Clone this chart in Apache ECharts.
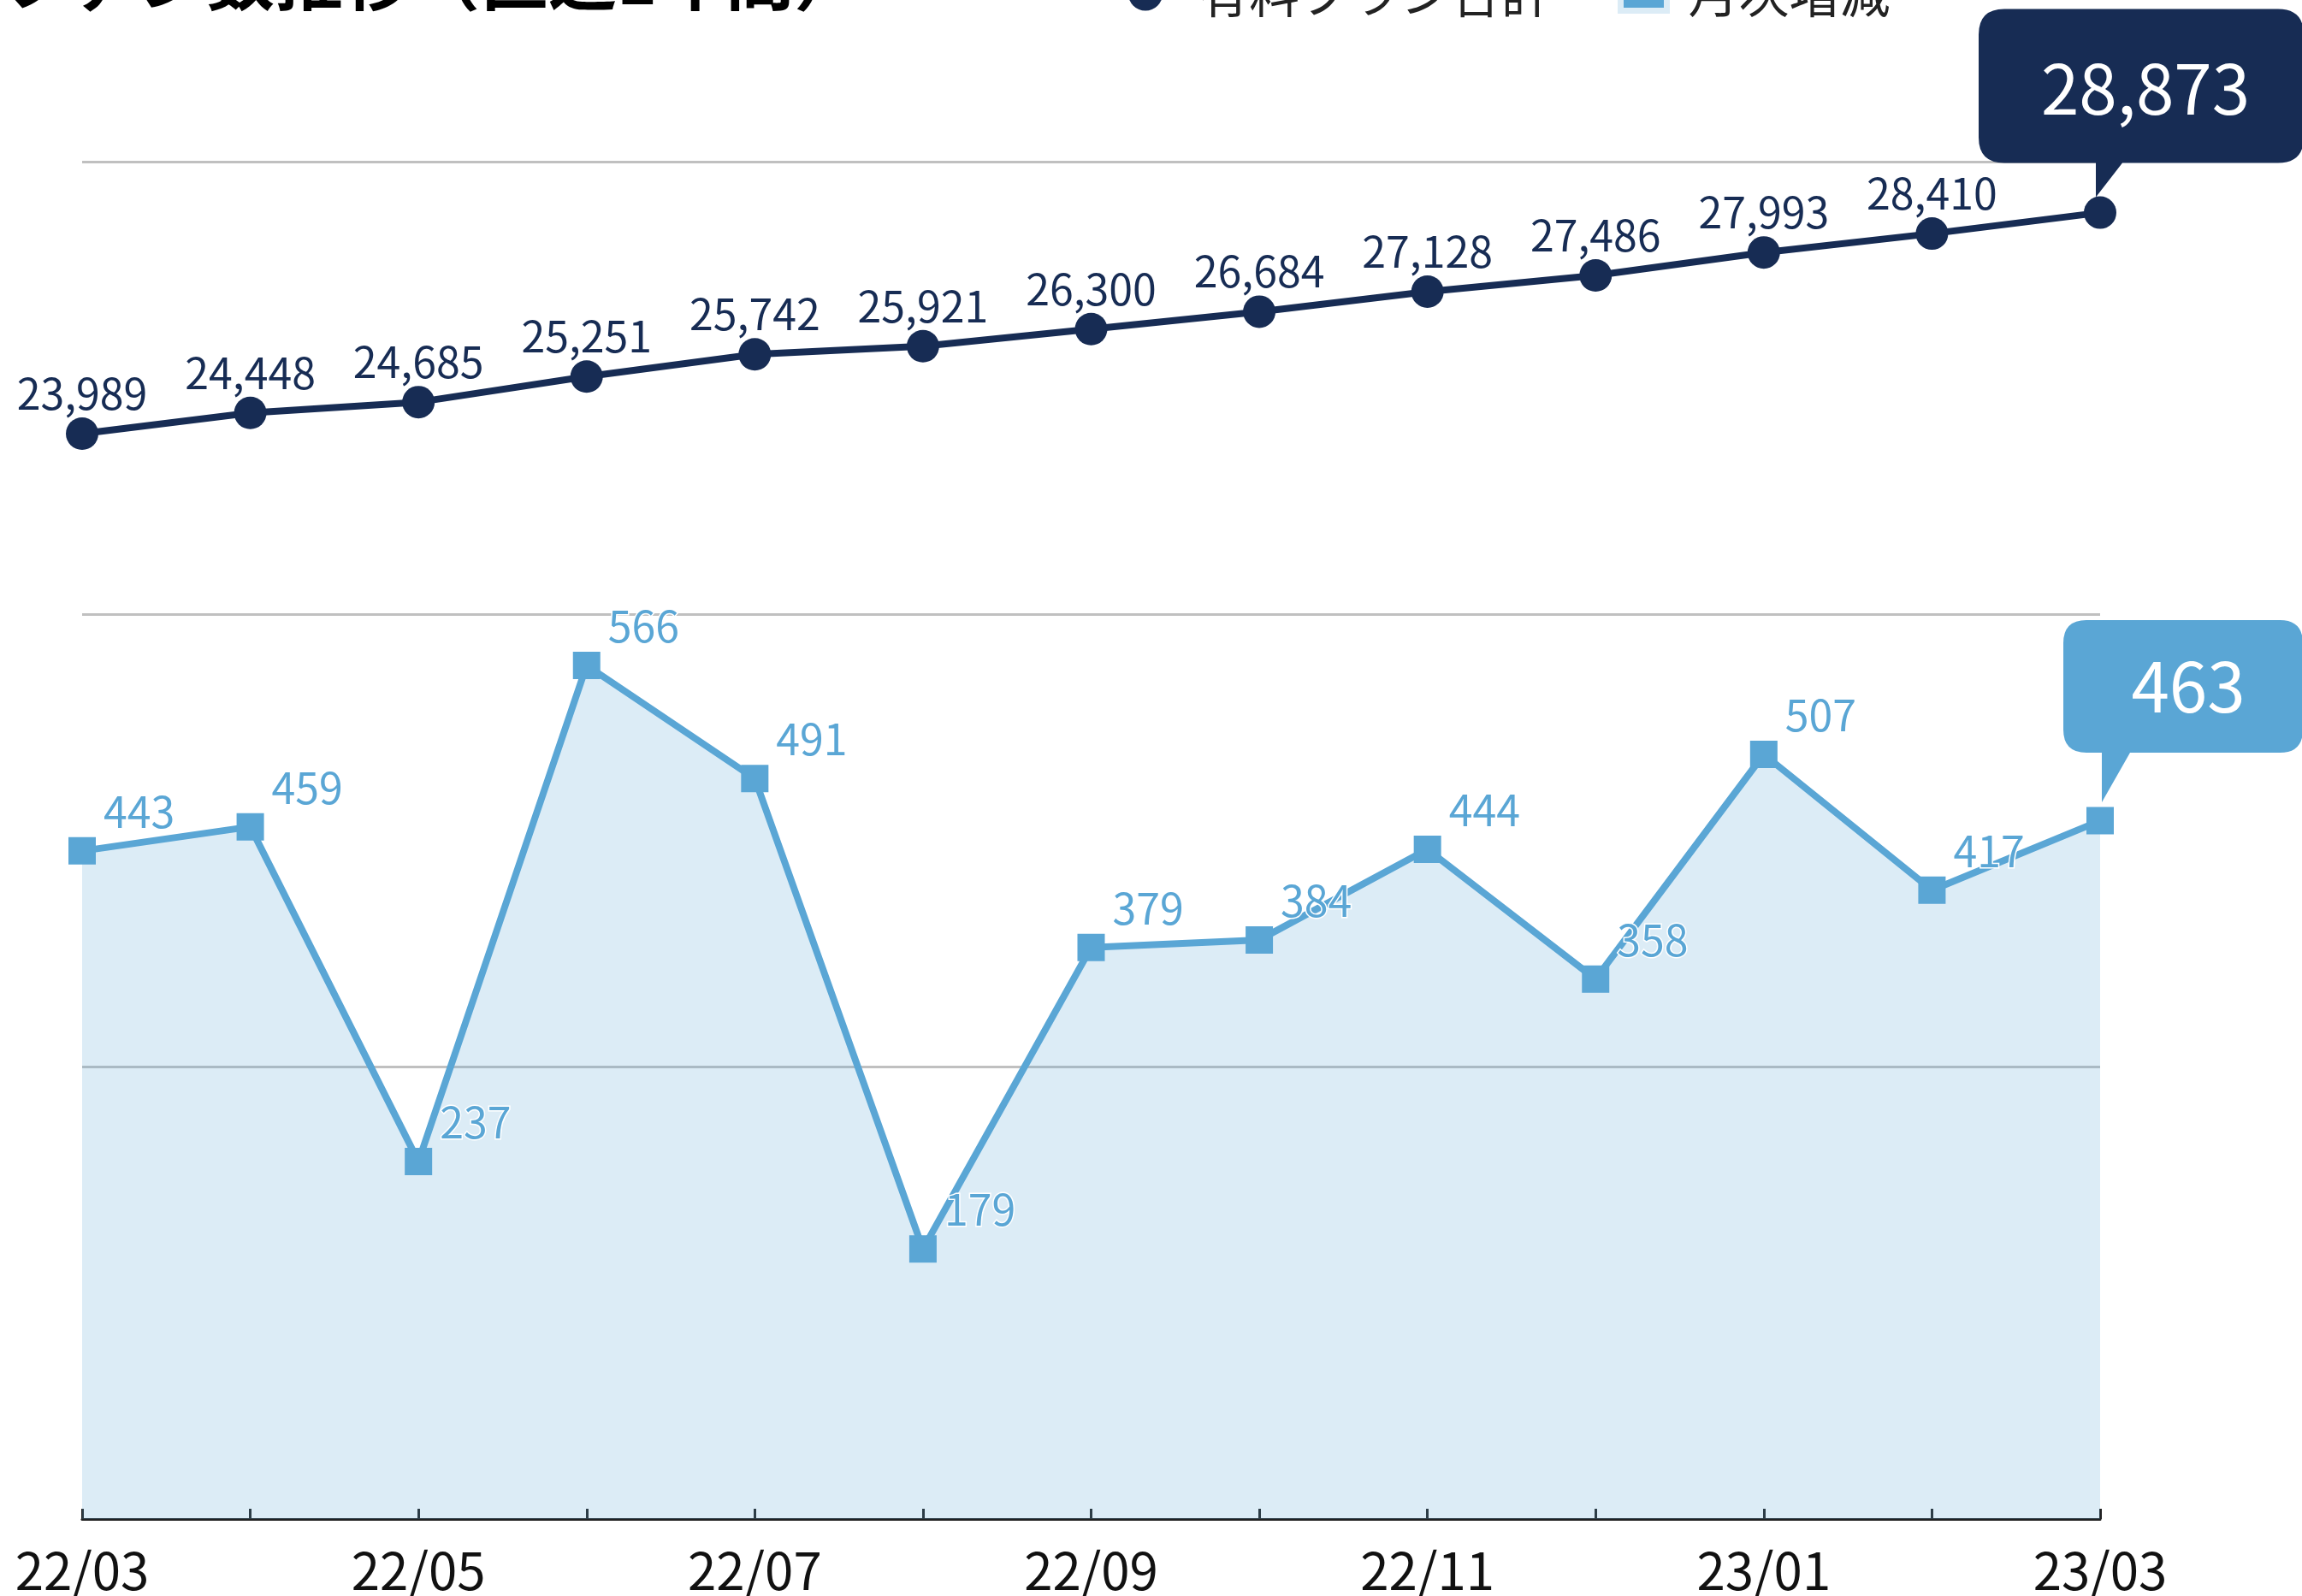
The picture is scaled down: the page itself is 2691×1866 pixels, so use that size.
<!DOCTYPE html>
<html lang="ja">

<head>
    <meta charset="UTF-8">
    <title>ファン数推移</title>
    <script src="https://cdn.jsdelivr.net/npm/echarts@6/dist/echarts.min.js"></script>
    <style>
        html, body {
            margin: 0;
            padding: 0;
            background: #fff;
        }

        #chart {
            width: 2691px;
            height: 1866px;
        }
    </style>
</head>

<body>
    <div id="chart"></div>

    <script>
        // 月 (YY/MM)
        const months = ['22/03', '22/04', '22/05', '22/06', '22/07', '22/08', '22/09', '22/10', '22/11', '22/12', '23/01', '23/02', '23/03'];
        // 有料プラン合計
        const paidTotal = [23989, 24448, 24685, 25251, 25742, 25921, 26300, 26684, 27128, 27486, 27993, 28410, 28873];
        // 月次増減
        const monthlyChange = [443, 459, 237, 566, 491, 179, 379, 384, 444, 358, 507, 417, 463];

        const NAVY = '#172c54';
        const BLUE = '#5aa6d5';
        const FONT = "'Noto Sans CJK JP', 'Noto Sans', sans-serif";

        const last = months.length - 1;

        // 吹き出し (角丸 + しっぽ)
        const bubbleNavy = 'path://M30,0 L350,0 Q380,0 380,30 L380,150 Q380,180 350,180 L168,180 L137,220 L137,180 L30,180 Q0,180 0,150 L0,30 Q0,0 30,0 Z';
        const bubbleBlue = 'path://M27,0 L253,0 Q280,0 280,27 L280,128 Q280,155 253,155 L78,155 L45,213 L45,155 L27,155 Q0,155 0,128 L0,27 Q0,0 27,0 Z';

        const fmt = v => v.toLocaleString('en-US');

        const chart = echarts.init(document.getElementById('chart'));

        const option = {
            animation: false,
            textStyle: { fontFamily: FONT },
            title: {
                text: 'ファン数推移（直近1年間）',
                left: -4,
                top: -70,
                textStyle: {
                    fontSize: 80,
                    lineHeight: 80,
                    fontWeight: 'bold',
                    color: '#000',
                    fontFamily: FONT
                }
            },
            legend: [
                {
                    data: [{ name: '有料プラン合計', icon: 'circle' }],
                    left: 1314,
                    top: -42,
                    itemWidth: 40,
                    itemHeight: 40,
                    textStyle: { fontSize: 59, lineHeight: 40, color: '#222', padding: [0, 0, 0, 37], fontFamily: FONT }
                },
                {
                    data: [{
                        name: '月次増減',
                        icon: 'rect',
                        itemStyle: { color: BLUE, borderColor: '#dcecf6', borderWidth: 7 }
                    }],
                    left: 1886,
                    top: -42,
                    itemWidth: 54,
                    itemHeight: 40,
                    textStyle: { fontSize: 59, lineHeight: 40, color: '#222', padding: [0, 0, 0, 20], fontFamily: FONT }
                }
            ],
            grid: {
                left: 96,
                right: 236,
                top: 189,
                bottom: 88
            },
            xAxis: {
                type: 'category',
                data: months,
                boundaryGap: false,
                axisLine: { lineStyle: { color: '#222', width: 3 } },
                axisTick: {
                    inside: true,
                    length: 12,
                    interval: 0,
                    lineStyle: { color: '#222', width: 3 }
                },
                axisLabel: {
                    interval: 1,
                    fontSize: 60,
                    lineHeight: 60,
                    margin: 30,
                    color: '#111',
                    fontFamily: FONT
                }
            },
            yAxis: [
                {
                    type: 'value',
                    min: 0,
                    max: 30000,
                    interval: 10000,
                    axisLabel: { show: false },
                    axisLine: { show: false },
                    axisTick: { show: false },
                    splitLine: { lineStyle: { color: '#c0c0c0', width: 3 } }
                },
                {
                    type: 'value',
                    min: 0,
                    max: 900,
                    interval: 300,
                    axisLabel: { show: false },
                    axisLine: { show: false },
                    axisTick: { show: false },
                    splitLine: { show: false }
                }
            ],
            series: [
                {
                    name: '有料プラン合計',
                    type: 'line',
                    yAxisIndex: 0,
                    data: paidTotal.map((v, i) => i === last ? { value: v, label: { show: false } } : v),
                    symbol: 'circle',
                    symbolSize: 38,
                    itemStyle: { color: NAVY },
                    lineStyle: { color: NAVY, width: 8 },
                    label: {
                        show: true,
                        position: 'top',
                        distance: 3,
                        fontSize: 50,
                        color: NAVY,
                        fontFamily: FONT,
                        formatter: p => fmt(p.value)
                    },
                    z: 3,
                    markPoint: {
                        symbol: bubbleNavy,
                        symbolSize: [380, 220],
                        symbolOffset: [48, -128],
                        itemStyle: { color: NAVY },
                        label: {
                            show: true,
                            position: 'inside',
                            offset: [5, -17],
                            fontSize: 80,
                            color: '#fff',
                            fontFamily: FONT,
                            formatter: fmt(paidTotal[last])
                        },
                        data: [{ coord: [months[last], paidTotal[last]] }]
                    }
                },
                {
                    name: '月次増減',
                    type: 'line',
                    yAxisIndex: 1,
                    data: monthlyChange.map((v, i) => i === last ? { value: v, label: { show: false } } : v),
                    symbol: 'rect',
                    symbolSize: 32,
                    itemStyle: { color: BLUE },
                    lineStyle: { color: BLUE, width: 8 },
                    areaStyle: { color: 'rgba(90,166,213,0.21)', opacity: 1 },
                    label: {
                        show: true,
                        position: 'right',
                        distance: 9,
                        offset: [0, -46],
                        fontSize: 50,
                        color: BLUE,
                        textBorderColor: '#fff',
                        textBorderWidth: 3,
                        fontFamily: FONT
                    },
                    z: 2,
                    markPoint: {
                        symbol: bubbleBlue,
                        symbolSize: [280, 213],
                        symbolOffset: [97, -128],
                        itemStyle: { color: BLUE },
                        label: {
                            show: true,
                            position: 'inside',
                            offset: [6, -29],
                            fontSize: 80,
                            color: '#fff',
                            fontFamily: FONT,
                            formatter: String(monthlyChange[last])
                        },
                        data: [{ coord: [months[last], monthlyChange[last]] }]
                    }
                }
            ]
        };

        chart.setOption(option);
    </script>
</body>

</html>
